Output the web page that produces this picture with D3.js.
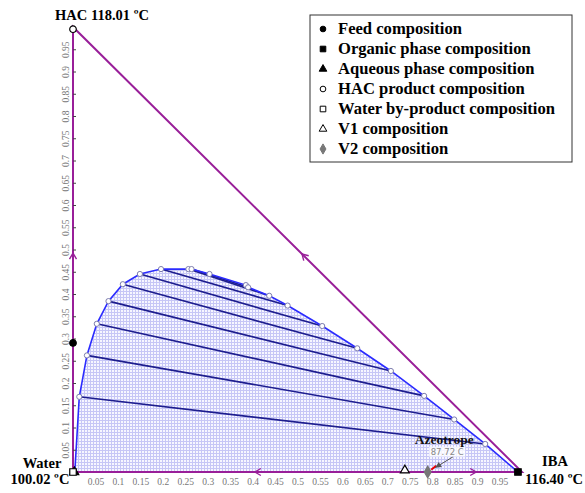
<!DOCTYPE html>
<html>
<head>
<meta charset="utf-8">
<script src="https://cdn.jsdelivr.net/npm/d3@7"></script>
<style>
  body { margin: 0; background: #fff; }
  svg { display: block; }
</style>
</head>
<body>
<svg id="chart" width="585" height="493"></svg>
<script>
// compositions are [IBA fraction, HAC fraction]; water = 1 - both
const binodalIBA = [0.004, 0.014, 0.031, 0.053, 0.079, 0.111, 0.149, 0.196, 0.257, 0.264, 0.304, 0.385, 0.390, 0.437, 0.478, 0.555, 0.633, 0.708, 0.782, 0.849, 0.918, 0.991];
const binodalHAC = [0.000, 0.169, 0.262, 0.333, 0.384, 0.422, 0.445, 0.456, 0.456, 0.456, 0.445, 0.420, 0.415, 0.396, 0.374, 0.328, 0.278, 0.227, 0.171, 0.118, 0.063, 0.000];
// tie lines: aqueous end -> organic end (indices into binodal arrays)
const tieAqueous = [1, 2, 3, 4, 5, 6, 7, 8, 9];
const tieOrganic = [20, 19, 18, 17, 16, 15, 14, 13, 12];

const ticks = [0.05, 0.1, 0.15, 0.2, 0.25, 0.3, 0.35, 0.4, 0.45, 0.5, 0.55, 0.6, 0.65, 0.7, 0.75, 0.8, 0.85, 0.9, 0.95];

const legendLabels = ["Feed composition", "Organic phase composition", "Aqueous phase composition",
  "HAC product composition", "Water by-product composition", "V1 composition", "V2 composition"];
const legendShapes = ["circle", "square", "triangle", "circle", "square", "triangle", "diamond"];
const legendFills = ["#000", "#000", "#000", "#fff", "#fff", "#fff", "#777"];
const legendStrokes = ["#000", "#000", "#000", "#000", "#000", "#000", "#777"];
// points on the diagram, same order as the legend
const pointIBA = [0.000, 0.991, 0.003, 0.000, 0.000, 0.739, 0.790];
const pointHAC = [0.290, 0.000, 0.000, 0.995, 0.000, 0.004, 0.000];

// residue-curve arrows along the edges
const arrowIBA = [0.000, 0.510, 0.405, 0.898];
const arrowHAC = [0.492, 0.490, 0.000, 0.000];
const arrowDirIBA = [0, -1, -1, 1];
const arrowDirHAC = [1, 1, 0, 0];

const vertexNames = ["HAC 118.01 ºC", "Water", "100.02 ºC", "IBA", "116.40 ºC"];
const azeoIBA = 0.800, azeoHAC = 0.003, azeoTemp = "87.72 C";

const purple = "#991f99";

let svg = d3.select("#chart");
let x = d3.scaleLinear().domain([0, 1]).range([73, 522]);
let y = d3.scaleLinear().domain([0, 1]).range([472, 27]);

// hatched fill for the two-phase region
let defs = svg.append("defs");
let pat = defs.append("pattern")
  .attr("id", "grid")
  .attr("width", 3).attr("height", 3)
  .attr("patternUnits", "userSpaceOnUse");
pat.append("rect").attr("width", 3).attr("height", 3).attr("fill", "#f6f6ff");
pat.append("path").attr("d", "M0.5,0V3M0,0.5H3")
  .attr("stroke", "#c6c6f6").attr("stroke-width", 1);

let binodal = binodalIBA.map((u, i) => [u, binodalHAC[i]]);

let line = d3.line().x(d => x(d[0])).y(d => y(d[1]));

svg.append("path")
  .attr("d", line(binodal) + "Z")
  .attr("fill", "url(#grid)");

// tie lines
svg.append("g").selectAll("line")
  .data(tieAqueous)
  .enter()
  .append("line")
  .attr("x1", (d) => x(binodal[d][0]))
  .attr("y1", (d) => y(binodal[d][1]))
  .attr("x2", (d, i) => x(binodal[tieOrganic[i]][0]))
  .attr("y2", (d, i) => y(binodal[tieOrganic[i]][1]))
  .attr("stroke", "#1d1d8e")
  .attr("stroke-width", 1.6);

// binodal curve
svg.append("path")
  .attr("d", line(binodal))
  .attr("fill", "none")
  .attr("stroke", "#2b2bff")
  .attr("stroke-width", 1.6);

svg.append("g").selectAll("circle")
  .data(binodal.slice(1, -1))
  .enter()
  .append("circle")
  .attr("cx", d => x(d[0]))
  .attr("cy", d => y(d[1]))
  .attr("r", 2.6)
  .attr("fill", "#fff")
  .attr("stroke", "#7c7cae")
  .attr("stroke-width", 1);

// triangle edges
let corners = [[0, 0], [1, 0], [0, 1]];
svg.append("path")
  .attr("d", line(corners) + "Z")
  .attr("fill", "none")
  .attr("stroke", purple)
  .attr("stroke-width", 2);

// axes
let bottom = svg.append("g")
  .attr("transform", `translate(0,${y(0)})`)
  .call(d3.axisBottom(x).tickValues(ticks).tickSize(0).tickPadding(6).tickFormat(d => d));
bottom.select(".domain").remove();
bottom.selectAll("text")
  .attr("fill", "#777")
  .attr("font-family", "Liberation Serif, serif")
  .attr("font-size", 9.5);

let left = svg.append("g")
  .attr("transform", `translate(${x(0)},0)`)
  .call(d3.axisLeft(y).tickValues(ticks).tickSizeInner(-3).tickSizeOuter(0).tickFormat(d => d));
left.select(".domain").remove();
left.selectAll("line").attr("stroke", "#444");
left.selectAll("text")
  .attr("transform", "rotate(-90)")
  .attr("x", 0).attr("y", -4).attr("dy", 0)
  .attr("text-anchor", "middle")
  .attr("fill", "#777")
  .attr("font-family", "Liberation Serif, serif")
  .attr("font-size", 9.5);

// edge arrows
svg.append("g").selectAll("path")
  .data(arrowIBA)
  .enter()
  .append("path")
  .attr("d", "M-6,-3.5L0,0L-6,3.5")
  .attr("transform", (d, i) => {
    let a = Math.atan2(-arrowDirHAC[i], arrowDirIBA[i]) * 180 / Math.PI;
    return `translate(${x(d)},${y(arrowHAC[i])})rotate(${a})`;
  })
  .attr("fill", "none")
  .attr("stroke", purple)
  .attr("stroke-width", 1.4);

// symbols
const symbolType = {
  circle: d3.symbolCircle, square: d3.symbolSquare,
  triangle: d3.symbolTriangle, diamond: d3.symbolDiamond
};
const symbolSize = { circle: 34, square: 42, triangle: 34, diamond: 40 };
function sym(i) {
  return d3.symbol().type(symbolType[legendShapes[i]]).size(symbolSize[legendShapes[i]])();
}

// azeotrope marker and label
svg.append("line")
  .attr("x1", x(azeoIBA) - 1).attr("y1", y(azeoHAC) - 1)
  .attr("x2", x(azeoIBA) + 4).attr("y2", y(azeoHAC) - 5)
  .attr("stroke", "#e00").attr("stroke-width", 2);

let pts = svg.append("g");
let order = [2, 4, 0, 1, 3, 5, 6];
order.forEach(i => {
  pts.append("path")
    .attr("d", sym(i))
    .attr("transform", `translate(${x(pointIBA[i])},${y(pointHAC[i])})`)
    .attr("fill", legendFills[i])
    .attr("stroke", legendStrokes[i])
    .attr("stroke-width", 1.2);
});

svg.append("line")
  .attr("x1", x(azeoIBA) + 21).attr("y1", y(azeoHAC) - 14)
  .attr("x2", x(azeoIBA) + 3).attr("y2", y(azeoHAC) - 3)
  .attr("stroke", "#555").attr("stroke-width", 1);
svg.append("path")
  .attr("d", "M0,0L-6,-3L-6,3Z")
  .attr("transform", `translate(${x(azeoIBA) + 3},${y(azeoHAC) - 3})rotate(148)`)
  .attr("fill", "#555");
svg.append("rect")
  .attr("x", x(azeoIBA) - 3).attr("y", y(azeoHAC) - 24)
  .attr("width", 36).attr("height", 10)
  .attr("fill", "#fff").attr("fill-opacity", 0.8);
svg.append("text")
  .attr("x", x(azeoIBA) + 15).attr("y", y(azeoHAC) - 16)
  .attr("text-anchor", "middle")
  .attr("font-family", "DejaVu Sans, sans-serif")
  .attr("font-size", 8.5)
  .attr("fill", "#888")
  .text(azeoTemp);
svg.append("text")
  .attr("x", x(azeoIBA) + 12).attr("y", y(azeoHAC) - 27)
  .attr("text-anchor", "middle")
  .attr("font-family", "Liberation Serif, serif")
  .attr("font-weight", "bold")
  .attr("font-size", 13.5)
  .attr("fill", "#111")
  .text("Azeotrope");

// vertex labels
let vtx = svg.append("g")
  .attr("font-family", "Liberation Serif, serif")
  .attr("font-weight", "bold")
  .attr("font-size", 14.5)
  .attr("text-anchor", "middle")
  .attr("fill", "#000");
vtx.append("text").attr("x", x(0) + 29).attr("y", y(1) - 7).text(vertexNames[0]);
vtx.append("text").attr("x", x(0) - 31).attr("y", y(0) - 4).text(vertexNames[1]);
vtx.append("text").attr("x", x(0) - 33).attr("y", y(0) + 12).text(vertexNames[2]);
vtx.append("text").attr("x", x(1) + 33).attr("y", y(0) - 6).text(vertexNames[3]);
vtx.append("text").attr("x", x(1) + 32).attr("y", y(0) + 12).text(vertexNames[4]);

// legend
let legend = svg.append("g").attr("transform", "translate(310,15)");
legend.append("rect")
  .attr("width", 262).attr("height", 147)
  .attr("fill", "#fff")
  .attr("stroke", "#333")
  .attr("stroke-width", 1);
let rows = legend.selectAll("g.row")
  .data(legendLabels)
  .enter()
  .append("g")
  .attr("class", "row")
  .attr("transform", (d, i) => `translate(0,${14 + i * 20})`);
rows.append("path")
  .attr("d", (d, i) => d3.symbol().type(symbolType[legendShapes[i]]).size(symbolSize[legendShapes[i]] * 0.75)())
  .attr("transform", "translate(13,0)")
  .attr("fill", (d, i) => legendFills[i])
  .attr("stroke", (d, i) => legendStrokes[i])
  .attr("stroke-width", 1);
rows.append("text")
  .attr("x", 28)
  .attr("dy", "0.33em")
  .attr("font-family", "Liberation Serif, serif")
  .attr("font-weight", "bold")
  .attr("font-size", 16.6)
  .text(d => d);
</script>
</body>
</html>
